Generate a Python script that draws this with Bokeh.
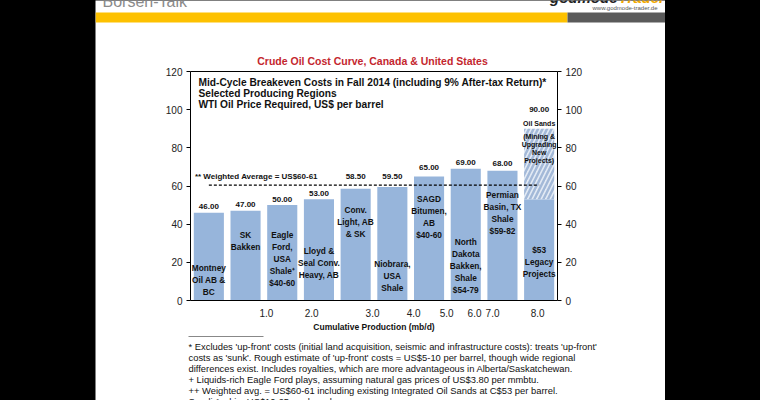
from bokeh.plotting import figure
from bokeh.models import LinearAxis, Range1d, FixedTicker, Div, ColumnDataSource
from bokeh.layouts import row
from bokeh.embed import file_html
from bokeh.resources import INLINE
from bokeh.core.properties import value

# ---------------- data ----------------
regions = [
    "Montney\nOil AB &\nBC",
    "SK\nBakken",
    "Eagle\nFord,\nUSA\nShale\u207a\n$40-60",
    "Lloyd &\nSeal Conv.\nHeavy, AB",
    "Conv.\nLight, AB\n& SK",
    "Niobrara,\nUSA\nShale",
    "SAGD\nBitumen,\nAB\n$40-60",
    "North\nDakota\nBakken,\nShale\n$54-79",
    "Permian\nBasin, TX\nShale\n$59-82",
    "$53\nLegacy\nProjects",
]
breakeven = [46.0, 47.0, 50.0, 53.0, 58.5, 59.5, 65.0, 69.0, 68.0, 90.0]
oil_sands_legacy = 53.0
weighted_avg = 60.5
prod_tick_labels = ["1.0", "2.0", "3.0", "4.0", "5.0", "6.0", "7.0", "8.0"]
prod_tick_pos = [2.07, 3.30, 4.96, 6.08, 6.98, 7.74, 8.23, 9.46]
y_ticks = [0, 20, 40, 60, 80, 100, 120]

chart_title = "Crude Oil Cost Curve, Canada & United States"
subtitle = ("Mid-Cycle Breakeven Costs in Fall 2014 (including 9% After-tax Return)*\n"
            "Selected Producing Regions\nWTI Oil Price Required, US$ per barrel")
footnotes = [
    "* Excludes 'up-front' costs (initial land acquisition, seismic and infrastructure costs): treats 'up-front'",
    "costs as 'sunk'. Rough estimate of 'up-front' costs = US$5-10 per barrel, though wide regional",
    "differences exist. Includes royalties, which are more advantageous in Alberta/Saskatchewan.",
    "+ Liquids-rich Eagle Ford plays, assuming natural gas prices of US$3.80 per mmbtu.",
    "++ Weighted avg. = US$60-61 including existing Integrated Oil Sands at C$53 per barrel.",
    "Saudi Arabia: US$10-25 per barrel.",
]

# ---------------- layout / style helpers ----------------
inner_label_y = [10.5, 31.0, 22.0, 19.4, 41.0, 13.0, 43.5, 18.3, 46.0, 20.0]
value_label_offset = [-6, -6, -6, -6, -12, -10, -9, -6, -7, -19]

FONT = "Liberation Sans"
BAR = "#97B5DB"
W, H = 570, 400
n = len(breakeven)
Y_MAX = 120
# chart frame position on the white slide (pixels, local to the slide)
FX0, FX1, FY0, FY1 = 95.0, 462.0, 71.0, 300.0
PXX = (FX1 - FX0) / n
PXY = (FY1 - FY0) / Y_MAX


def dx(px):
    return (px - FX0) / PXX


def dy(py):
    return (FY1 - py) / PXY


p = figure(width=W, height=H, x_range=Range1d(dx(0), dx(W)), y_range=Range1d(dy(H), dy(0)),
           x_axis_type=None, y_axis_type=None,
           output_backend="svg", toolbar_location=None, min_border=0,
           background_fill_color="white", border_fill_color="white", outline_line_color=None)

# ---------------- slide header ----------------
p.quad(left=[dx(0), dx(472)], right=[dx(472), dx(W)], top=[dy(12), dy(12)], bottom=[dy(22), dy(22)],
       fill_color=["#FDC100", "#5a5a5a"], line_color=None)
p.text(x=[dx(7)], y=[dy(0.5)], text=["B\u00f6rsen-Talk"], text_baseline="middle",
       text_font=value(FONT), text_font_size="16px", text_color="#8a8a8a")
p.text(x=[dx(522)], y=[dy(-3)], text=["godmode"], text_align="right", text_baseline="middle",
       text_font=value(FONT), text_font_style="bold italic", text_font_size="15px", text_color="#222")
p.text(x=[dx(523)], y=[dy(-3)], text=["Trader"], text_align="left", text_baseline="middle",
       text_font=value(FONT), text_font_style="bold italic", text_font_size="15px", text_color="#F2A900")
p.text(x=[dx(562)], y=[dy(7.5)], text=["www.godmode-trader.de"], text_align="right",
       text_baseline="middle", text_font=value(FONT), text_font_size="6px", text_color="#555")
p.text(x=[dx(277)], y=[dy(60)], text=[chart_title], text_align="center", text_baseline="middle",
       text_font=value(FONT), text_font_style="bold", text_font_size="10.5px", text_color="#C4262E")

# ---------------- bars ----------------
xc = [i + 0.5 for i in range(n)]
tops_solid = breakeven[:-1] + [oil_sands_legacy]
src = ColumnDataSource(dict(x=xc, top=tops_solid, v=breakeven,
                            vl=["%.2f" % v for v in breakeven], off=value_label_offset,
                            lab=regions, ly=inner_label_y))
p.vbar(x="x", top="top", bottom=0, width=0.82, source=src, fill_color=BAR, line_color=None)

p.vbar(x=[xc[-1]], bottom=[oil_sands_legacy], top=[breakeven[-1]], width=0.82,
       fill_color="#e3eaf4", line_color=None, hatch_pattern="right_diagonal_line",
       hatch_color="#a3b9d8", hatch_weight=2.5, hatch_scale=9)

# weighted average dashed line
p.segment(x0=[0.5], x1=[n - 0.5], y0=[weighted_avg], y1=[weighted_avg],
          line_color="black", line_dash="3 2", line_width=1.2)
p.text(x=[0.12], y=[weighted_avg], text=["** Weighted Average = US$60-61"], y_offset=-4,
       text_baseline="bottom", text_align="left", text_font=value(FONT),
       text_font_style="bold", text_font_size="8px", text_color="#111")

p.text(x="x", y="v", text="vl", y_offset="off", source=src, text_align="center",
       text_baseline="middle", text_font=value(FONT), text_font_style="bold",
       text_font_size="8px", text_color="#111")
p.text(x="x", y="ly", text="lab", source=src, text_align="center", text_baseline="middle",
       text_font=value(FONT), text_font_style="bold", text_font_size="8.3px",
       text_color="#111", text_line_height=1.2)

p.text(x=[xc[-1]], y=[93], text=["Oil Sands"], text_align="center", text_baseline="middle",
       text_font=value(FONT), text_font_style="bold", text_font_size="7px", text_color="#111")
p.text(x=[xc[-1]], y=[79.5], text=["(Mining &\nUpgrading\nNew\nProjects)"], text_align="center",
       text_baseline="middle", text_font=value(FONT), text_font_style="bold",
       text_font_size="7px", text_color="#111", text_line_height=1.15)

p.text(x=[dx(103)], y=[dy(76.5)], text=[subtitle],
       text_align="left", text_baseline="top", text_font=value(FONT), text_font_style="bold",
       text_font_size="10.2px", text_color="#111", text_line_height=1.0)

# top edge of the chart box
p.segment(x0=[0], x1=[n], y0=[Y_MAX], y1=[Y_MAX], line_color="black", line_width=1)

# ---------------- axes ----------------
def style_y(ax):
    ax.ticker = FixedTicker(ticks=y_ticks)
    ax.major_tick_out = 4
    ax.major_tick_in = 0
    ax.minor_tick_out = 0
    ax.minor_tick_in = 0
    ax.axis_line_color = "black"
    ax.major_tick_line_color = "black"
    ax.major_label_text_font = FONT
    ax.major_label_text_font_size = "10px"
    ax.major_label_text_color = "#222"
    ax.major_label_standoff = 4


ly = LinearAxis(fixed_location=0, bounds=(0, Y_MAX))
style_y(ly)
p.add_layout(ly, "left")
ry = LinearAxis(fixed_location=n, bounds=(0, Y_MAX))
style_y(ry)
p.add_layout(ry, "right")

xa = LinearAxis(fixed_location=0, bounds=(0, n))
xa.ticker = FixedTicker(ticks=prod_tick_pos)
xa.major_label_overrides = {pos: lab for pos, lab in zip(prod_tick_pos, prod_tick_labels)}
xa.major_tick_out = 0
xa.major_tick_in = 0
xa.minor_tick_out = 0
xa.minor_tick_in = 0
xa.axis_line_color = "black"
xa.major_label_text_font = FONT
xa.major_label_text_font_size = "10px"
xa.major_label_text_color = "#222"
xa.major_label_standoff = 8
xa.axis_label = "Cumulative Production (mb/d)"
xa.axis_label_text_font = FONT
xa.axis_label_text_font_style = "bold"
xa.axis_label_text_font_size = "8.5px"
xa.axis_label_text_color = "#111"
xa.axis_label_standoff = 2
p.add_layout(xa, "below")

# ---------------- footnotes ----------------
p.segment(x0=[dx(93)], x1=[dx(168)], y0=[dy(336)], y1=[dy(336)], line_color="#888888", line_width=1)
p.text(x=[dx(93)] * len(footnotes), y=[dy(346 + 11.0 * i) for i in range(len(footnotes))],
       text=footnotes, text_align="left", text_baseline="middle", text_font=value(FONT),
       text_font_size="9.4px", text_color="#111")

left = Div(width=95, height=400, margin=0, styles={"background-color": "black"})
right = Div(width=95, height=400, margin=0, styles={"background-color": "black"})
layout = row(left, p, right, spacing=0, styles={"background-color": "black"})

open("out.html", "w").write(file_html(layout, INLINE))
